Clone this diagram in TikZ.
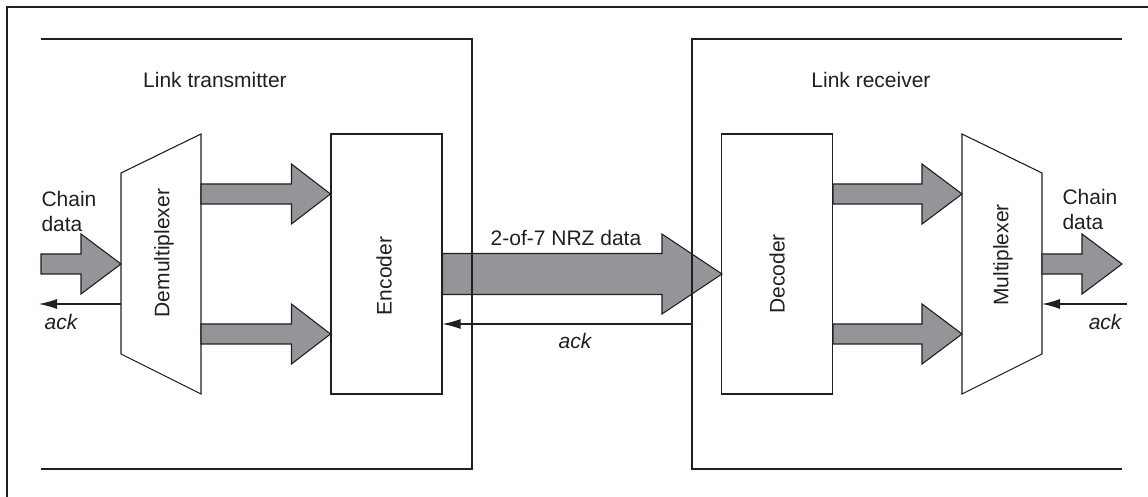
\documentclass[tikz,border=0pt]{standalone}
\usepackage{fontspec}
\setmainfont{Liberation Sans}
\usetikzlibrary{calc,arrows.meta}
\definecolor{ink}{HTML}{231F20}
\definecolor{fillg}{HTML}{939598}
% #1 start, #2 tip, #3 shaft half width, #4 head half width, #5 head length
\newcommand\blockarr[5]{%
  \draw[barr] let \p1=(#1), \p2=(#2) in
    (\x1,\y2+#3) -- (\x2-#5,\y2+#3) -- (\x2-#5,\y2+#4) -- (\p2)
    -- (\x2-#5,\y2-#4) -- (\x2-#5,\y2-#3) -- (\x1,\y2-#3) -- cycle;}
\begin{document}
\begin{tikzpicture}[x=0.5pt,y=-0.5pt, line width=0.55pt,
  box/.style={draw=ink, fill=white, minimum width=55.5pt, minimum height=130pt, inner sep=0pt},
  mux/.style={draw=ink, fill=white, line join=miter},
  frame/.style={draw=ink},
  barr/.style={draw=ink, fill=fillg, line join=miter},
  ackline/.style={draw=ink, -{Latex[length=9pt,width=5pt]}},
  lbl/.style={font=\fontsize{10.5}{12.5}\selectfont, text=ink, inner sep=0pt},
  ackl/.style={lbl, font=\fontsize{10.5}{12.5}\selectfont\itshape},
  ]
\useasboundingbox (0,0) rectangle (1148,497);

% blocks
\node[box] (enc) at (386.5,264) {};
\node[box] (dec) at (777,264) {};
\node[lbl, rotate=90] (enclbl) at (384,276) {Encoder};
\node[lbl, rotate=90] (declbl) at (777,274) {Decoder};

% big link arrow (under the frame lines)
\coordinate (linktip) at (722,274);
\blockarr{enc.east |- linktip}{linktip}{10.25pt}{20pt}{30pt}

% outer frame and link boxes
\draw[frame] (7,497) -- (7,7) -- (1148,7);
\draw[frame] (41,39) -- (472,39) -- (472,469) -- (41,469);
\draw[frame] (1122,39) -- (692,39) -- (692,469) -- (1122,469);
\node[lbl] (txlbl) at (215,80) {Link transmitter};
\node[lbl] (rxlbl) at (871,80) {Link receiver};

% demultiplexer
\draw[mux] (121,173) -- (201,134) -- (201,394) -- (121,354) -- cycle;
\coordinate (demuxin) at (121,264);
\coordinate (demuxack) at (121,304);
\coordinate (demuxo1) at (201,194);
\coordinate (demuxo2) at (201,334);
\node[lbl, rotate=90] (demuxlbl) at (164,253) {Demultiplexer};

% multiplexer
\draw[mux] (962,134) -- (1042,173) -- (1042,354) -- (962,394) -- cycle;
\coordinate (muxi1) at (962,194);
\coordinate (muxi2) at (962,334);
\coordinate (muxout) at (1042,264);
\coordinate (muxack) at (1042,304);
\node[lbl, rotate=90] (muxlbl) at (1003,255) {Multiplexer};

% chain data in
\coordinate (chinstart) at (41,264);
\blockarr{chinstart}{demuxin}{5pt}{15pt}{20pt}
\node[lbl, align=left, anchor=west] (chinlbl) at (41,211) {Chain\\data};
\coordinate (ackout) at (39,304);
\draw[ackline] (demuxack) -- (ackout);
\node[ackl] (ackllbl) at (61,322) {ack};

% demux -> encoder
\blockarr{demuxo1}{enc.west |- demuxo1}{5pt}{15pt}{19.5pt}
\blockarr{demuxo2}{enc.west |- demuxo2}{5pt}{15pt}{19.5pt}

% decoder -> mux
\blockarr{dec.east |- muxi1}{muxi1}{5pt}{15pt}{20pt}
\blockarr{dec.east |- muxi2}{muxi2}{5pt}{15pt}{20pt}

% link label and ack
\node[lbl] (linklbl) at (566,238) {2-of-7 NRZ data};
\coordinate (linkackstart) at (692,324);
\draw[ackline] (linkackstart) -- (enc.east |- linkackstart);
\node[ackl] (linkacklbl) at (575,341) {ack};

% chain data out
\coordinate (choutend) at (1122,264);
\blockarr{muxout}{choutend}{5pt}{15pt}{20pt}
\node[lbl, align=left, anchor=west] (choutlbl) at (1062,209) {Chain\\data};
\coordinate (ackin) at (1127,304);
\draw[ackline] (ackin) -- (muxack);
\node[ackl, anchor=east] (ackrlbl) at (1122,322) {ack};
\end{tikzpicture}
\end{document}
